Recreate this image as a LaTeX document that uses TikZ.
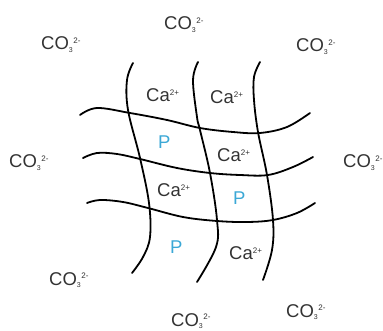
\documentclass[tikz,border=0pt]{standalone}
\usepackage{fontspec}
\setmainfont{Liberation Sans}
\usetikzlibrary{positioning}
\definecolor{ionblue}{HTML}{3BA8D6}
\definecolor{iongray}{HTML}{333333}
\newcommand{\carb}{CO\textsubscript{\scriptsize 3}\textsuperscript{\footnotesize 2-}}
\newcommand{\calc}{Ca\textsuperscript{\footnotesize 2+}}

\begin{document}
\begin{tikzpicture}[
      x=1pt, y=-1pt,
      every node/.style={font=\fontsize{18.5}{21}\selectfont, inner sep=0pt, anchor=base west},
      anion/.style={text=iongray},
      cation/.style={text=iongray},
      pore/.style={text=ionblue},
      wire/.style={line width=1.8pt, line cap=round},
    ]
    \useasboundingbox (0,0) rectangle (383,331);

    \draw[wire] plot[smooth, tension=0.6] coordinates {(133,63) (127,80) (128,110) (140,158) (149,203) (150,237) (143,257) (132,273)};
    \draw[wire] plot[smooth, tension=0.6] coordinates {(198,62) (193,80) (197,117) (200,130) (210,173) (217,220) (216,247) (197,282)};
    \draw[wire] plot[smooth, tension=0.6] coordinates {(260,62) (254,77) (254,100) (258,132) (267,175) (273,220) (272,250) (263,280)};

    \draw[wire] plot[smooth, tension=0.6] coordinates {(80,115) (97,108) (130,113) (167,120) (200,128) (233,132) (260,133) (287,127) (310,113)};
    \draw[wire] plot[smooth, tension=0.6] coordinates {(83,158) (97,153) (117,154) (140,159) (177,168) (210,173) (240,175) (268,175) (293,167) (313,157)};
    \draw[wire] plot[smooth, tension=0.6] coordinates {(87,203) (100,200) (123,202) (148,208) (183,217) (217,221) (247,222) (273,220) (297,213) (315,203)};

    \node[cation] (ca1) at (146,102) {\calc};
    \node[cation] (ca2) at (210,104) {\calc};
    \node[cation] (ca3) at (217,162) {\calc};
    \node[cation] (ca4) at (157,197) {\calc};
    \node[cation] (ca5) at (229,260) {\calc};

    \node[pore] (p1) at (158,149) {P};
    \node[pore] (p2) at (233,205) {P};
    \node[pore] (p3) at (170,254) {P};

    \node[anion] (co1) at (41,50) {\carb};
    \node[anion] (co2) at (164,30) {\carb};
    \node[anion] (co3) at (296,52) {\carb};
    \node[anion] (co4) at (9,168) {\carb};
    \node[anion] (co5) at (343,168) {\carb};
    \node[anion] (co6) at (49,285) {\carb};
    \node[anion] (co7) at (171,326) {\carb};
    \node[anion] (co8) at (286,317) {\carb};
  \end{tikzpicture}
\end{document}
